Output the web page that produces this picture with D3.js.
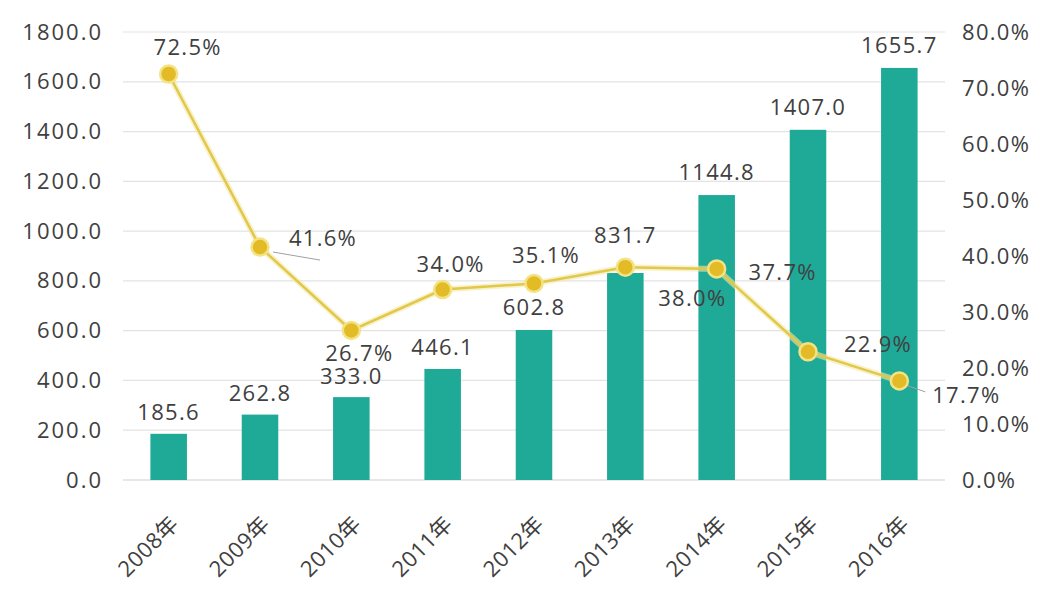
<!DOCTYPE html>
<html><head><meta charset="utf-8">
<script src="https://cdn.jsdelivr.net/npm/d3@7"></script>
<style>
html,body{margin:0;padding:0;background:#fff;}
svg text{font-family:"Open Sans","Noto Sans CJK SC",sans-serif;fill:#404040;}
</style>
</head><body>
<svg id="chart" width="1041" height="592"></svg>
<script>
// ---- data ----
const years = ["2008年","2009年","2010年","2011年","2012年","2013年","2014年","2015年","2016年"];
const amounts = [185.6, 262.8, 333.0, 446.1, 602.8, 831.7, 1144.8, 1407.0, 1655.7];
const growth = [0.725, 0.416, 0.267, 0.340, 0.351, 0.380, 0.377, 0.229, 0.177];
const leftTicks = [0, 200, 400, 600, 800, 1000, 1200, 1400, 1600, 1800];
const rightTicks = [0, 0.1, 0.2, 0.3, 0.4, 0.5, 0.6, 0.7, 0.8];

// ---- layout (label placement, not data) ----
const barLabelLift = [22, 22, 21, 22, 23, 38, 23, 23, 23];
const lineLabelOffset = [[19,-27],[63,-9],[8,23],[8,-26],[12,-28],[67,31],[66,3],[70,-8],[67,14]];
const leaders = [null, [[13,5],[60,13]], null, null, null, null, null, null, [[6,4],[26,11]]];

const svg = d3.select("#chart");
const L = 123, R = 945, T = 32, B = 480;

const x = d3.scaleBand().domain(years).range([L, R]).paddingInner(0.6).paddingOuter(0.3);
const y = d3.scaleLinear().domain([0, 1800]).range([B, T]);
const y2 = d3.scaleLinear().domain([0, 0.8]).range([B, T]);

// gridlines
svg.append("g").selectAll("line").data(leftTicks).join("line")
  .attr("x1", L).attr("x2", R)
  .attr("y1", d => y(d)).attr("y2", d => y(d))
  .attr("stroke", d => d === 0 ? "#d0d0d0" : "#e3e3e3").attr("stroke-width", 1.2);

// left axis
const ga = svg.append("g").attr("transform", `translate(${L},0)`)
  .call(d3.axisLeft(y).tickValues(leftTicks).tickFormat(d => d.toFixed(1)).tickSize(0).tickPadding(20));
ga.select(".domain").remove();
ga.selectAll("text").style("font-size", "22px").style("letter-spacing", "2px").attr("fill", "#404040").attr("font-family", null);

// right axis
const gb = svg.append("g").attr("transform", `translate(${R},0)`)
  .call(d3.axisRight(y2).tickValues(rightTicks).tickFormat(d => (d * 100).toFixed(1) + "%").tickSize(0).tickPadding(17));
gb.select(".domain").remove();
gb.selectAll("text").style("font-size", "22px").style("letter-spacing", "1.3px").attr("fill", "#404040").attr("font-family", null);

// x labels
svg.append("g").selectAll("text").data(years).join("text")
  .attr("transform", d => `translate(${x(d) + x.bandwidth() / 2 - 1},${513}) rotate(-45)`)
  .attr("text-anchor", "end").attr("dy", "0.8em")
  .style("font-size", "22px").style("letter-spacing", "0.5px")
  .text(d => d);

// bars
svg.append("g").selectAll("rect").data(amounts).join("rect")
  .attr("x", (d, i) => x(years[i])).attr("width", x.bandwidth())
  .attr("y", d => y(d)).attr("height", d => B - y(d))
  .attr("fill", "#1fa997");

// bar labels
svg.append("g").selectAll("text").data(amounts).join("text")
  .attr("x", (d, i) => x(years[i]) + x.bandwidth() / 2)
  .attr("y", (d, i) => y(d) - barLabelLift[i])
  .attr("dy", "0.36em").attr("text-anchor", "middle")
  .style("font-size", "22px").style("letter-spacing", "1.3px")
  .text(d => d.toFixed(1));

// line
const cx = i => x(years[i]) + x.bandwidth() / 2;
const line = d3.line().x((d, i) => cx(i)).y(d => y2(d));
svg.append("path").datum(growth).attr("d", line)
  .attr("fill", "none").attr("stroke", "#f4e9a8").attr("stroke-width", 6).attr("opacity", 0.6);
svg.append("path").datum(growth).attr("d", line)
  .attr("fill", "none").attr("stroke", "#e2c84a").attr("stroke-width", 2.5);

// leader lines
svg.append("g").selectAll("line").data(leaders.map((l, i) => ({l, i})).filter(o => o.l)).join("line")
  .attr("x1", o => cx(o.i) + o.l[0][0]).attr("y1", o => y2(growth[o.i]) + o.l[0][1])
  .attr("x2", o => cx(o.i) + o.l[1][0]).attr("y2", o => y2(growth[o.i]) + o.l[1][1])
  .attr("stroke", "#a0a0a0").attr("stroke-width", 1);

// markers
svg.append("g").selectAll("circle").data(growth).join("circle")
  .attr("cx", (d, i) => cx(i)).attr("cy", d => y2(d)).attr("r", 8.5)
  .attr("fill", "#e3bb26").attr("stroke", "#f3e384").attr("stroke-width", 2.5);

// line labels
svg.append("g").selectAll("text").data(growth).join("text")
  .attr("x", (d, i) => cx(i) + lineLabelOffset[i][0])
  .attr("y", (d, i) => y2(d) + lineLabelOffset[i][1])
  .attr("dy", "0.36em").attr("text-anchor", "middle")
  .style("font-size", "22px").style("letter-spacing", "1.3px")
  .text(d => (d * 100).toFixed(1) + "%");
</script>
</body></html>
